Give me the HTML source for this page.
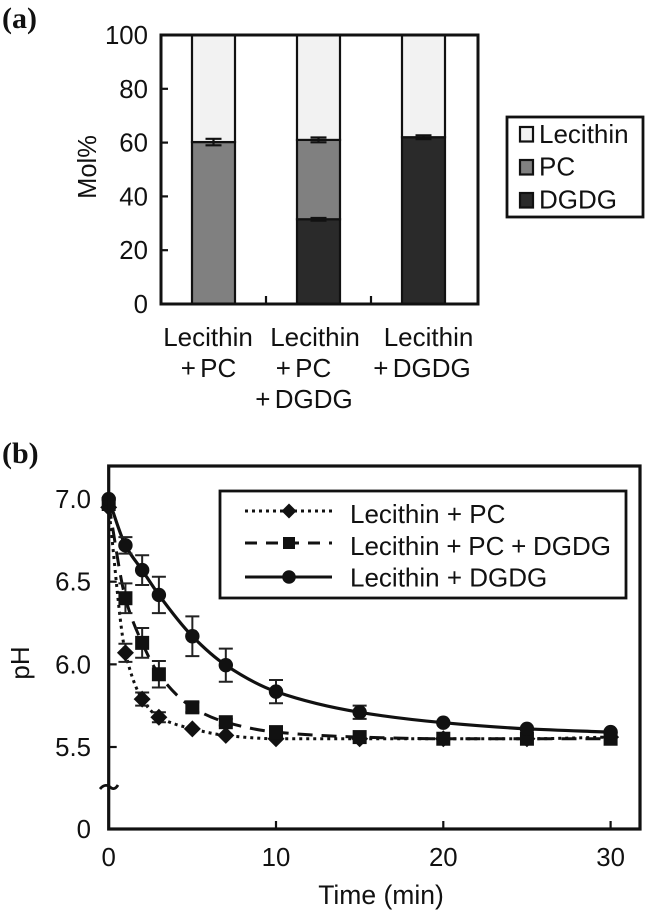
<!DOCTYPE html>
<html>
<head>
<meta charset="utf-8">
<title>Lecithin charts</title>
<style>
html,body{margin:0;padding:0;background:#fff;}
svg{display:block;}
text{font-family:"Liberation Sans",sans-serif;fill:#111;}
</style>
</head>
<body>
<svg id="fig" width="646" height="913" viewBox="0 0 646 913" xmlns="http://www.w3.org/2000/svg">
  <text x="2" y="28" font-size="30" font-weight="bold" style="font-family:'Liberation Serif',serif">(a)</text>
  <text x="2" y="463" font-size="30" font-weight="bold" style="font-family:'Liberation Serif',serif">(b)</text>
  <text transform="translate(96,167) rotate(-90)" text-anchor="middle" font-size="25.5">Mol%</text>
  <text transform="translate(29,663) rotate(-90)" text-anchor="middle" font-size="26">pH</text>
  <text x="381" y="904" text-anchor="middle" font-size="26.5">Time (min)</text>

  <g id="barChart"></g>
  <g id="lineChart"></g>

  <g>
    <rect x="507" y="117" width="136" height="100" fill="#fff" stroke="#111" stroke-width="2.8"/>
    <rect x="520" y="127" width="13" height="14.5" fill="#f2f2f2" stroke="#111" stroke-width="2.2"/>
    <text x="539" y="143" font-size="26">Lecithin</text>
    <rect x="520" y="160" width="13" height="14.5" fill="#808080" stroke="#111" stroke-width="2.2"/>
    <text x="539" y="175.5" font-size="26">PC</text>
    <rect x="520" y="193" width="13" height="14.5" fill="#2a2a2a" stroke="#111" stroke-width="2.2"/>
    <text x="539" y="208.5" font-size="26">DGDG</text>
  </g>

  <g>
    <rect x="220" y="491" width="406" height="107" fill="#fff" stroke="#111" stroke-width="2.8"/>
    <line x1="245" y1="511" x2="332" y2="511" stroke="#111" stroke-width="3" stroke-dasharray="3 4"/>
    <polygon points="289,503.5 296.5,511 289,518.5 281.5,511" fill="#111"/>
    <text x="350" y="523" font-size="26">Lecithin + PC</text>
    <line x1="245" y1="543" x2="332" y2="543" stroke="#111" stroke-width="3" stroke-dasharray="12 9"/>
    <rect x="283" y="537" width="12" height="12" fill="#111"/>
    <text x="350" y="555" font-size="26" word-spacing="-0.5">Lecithin + PC + DGDG</text>
    <line x1="245" y1="577" x2="332" y2="577" stroke="#111" stroke-width="3"/>
    <circle cx="289" cy="577" r="6.8" fill="#111"/>
    <text x="350" y="586.5" font-size="26">Lecithin + DGDG</text>
  </g>
</svg>

<script>
/* ---------- Panel (a) data ---------- */
var barTickLabels = [0, 20, 40, 60, 80, 100];
var dgdgValues = [0, 31.5, 62];
var pcValues = [60.2, 29.5, 0];
var lecithinValues = [39.8, 39, 38];
var pcErrors = [1.2, 0.9, 0];
var dgdgErrors = [0, 0.5, 0.7];
var categoryLine1 = ['Lecithin', 'Lecithin', 'Lecithin'];
var categoryLine2 = ['+ PC', '+ PC', '+ DGDG'];
var categoryLine3 = ['', '+ DGDG', ''];

/* ---------- Panel (b) data ---------- */
var timePoints = [0, 1, 2, 3, 5, 7, 10, 15, 20, 25, 30];
var phTickLabels = [0, 5.5, 6, 6.5, 7];
var timeTickLabels = [0, 10, 20, 30];
var lecithinPc = [6.95, 6.07, 5.79, 5.68, 5.61, 5.57, 5.55, 5.55, 5.55, 5.55, 5.56];
var lecithinPcErr = [0.01, 0.055, 0.04, 0.03, 0.01, 0.01, 0.01, 0.01, 0.01, 0.01, 0.01];
var lecithinPcDgdg = [6.97, 6.40, 6.13, 5.94, 5.74, 5.65, 5.59, 5.56, 5.55, 5.55, 5.55];
var lecithinPcDgdgErr = [0.01, 0.09, 0.09, 0.08, 0.03, 0.02, 0.01, 0.01, 0.01, 0.01, 0.01];
var lecithinDgdg = [7.0, 6.72, 6.57, 6.42, 6.17, 5.995, 5.835, 5.71, 5.647, 5.61, 5.59];
var lecithinDgdgErr = [0.01, 0.05, 0.09, 0.11, 0.12, 0.10, 0.07, 0.04, 0.01, 0.01, 0.01];

var NS = 'http://www.w3.org/2000/svg';
var INK = '#111';

function mk(parent, tag, props, name, text) {
  var el = document.createElementNS(NS, tag);
  for (var k in props) { el.setAttribute(k, props[k]); }
  
  
  if (text !== undefined) { el.textContent = text; }
  parent.appendChild(el);
  return el;
}

/* ---------- Panel (a) ---------- */
(function () {
  var g = document.getElementById('barChart');
  var L = 161, R = 478, T = 35, B = 304;
  var n = dgdgValues.length;
  var band = 105, bw = 43;
  function y(v) { return B - (B - T) * v / 100; }
  function cx(i) { return L + band * (i + 0.5); }

  function seg(i, from, val, fill, name) {
    if (val <= 0) { return; }
    mk(g, 'rect', { x: cx(i) - bw / 2, y: y(from + val), width: bw, height: y(from) - y(from + val), fill: fill, stroke: INK, 'stroke-width': 2.2 }, name);
  }
  function err(i, v, e, name) {
    if (e <= 0) { return; }
    var c = cx(i), w = 8;
    mk(g, 'path', {
      d: 'M' + (c - w) + ' ' + y(v + e) + 'H' + (c + w) + 'M' + (c - w) + ' ' + y(v - e) + 'H' + (c + w) + 'M' + c + ' ' + y(v + e) + 'V' + y(v - e),
      fill: 'none', stroke: INK, 'stroke-width': 2.2
    }, name);
  }

  for (var i = 0; i < n; i++) {
    seg(i, 0, dgdgValues[i], '#2a2a2a', 'bar-dgdg-' + (i + 1));
    seg(i, dgdgValues[i], pcValues[i], '#808080', 'bar-pc-' + (i + 1));
    seg(i, dgdgValues[i] + pcValues[i], lecithinValues[i], '#f2f2f2', 'bar-lecithin-' + (i + 1));
  }
  for (var j = 0; j < n; j++) {
    err(j, dgdgValues[j], dgdgErrors[j], 'error-bar-dgdg-' + (j + 1));
    if (pcValues[j] > 0) { err(j, dgdgValues[j] + pcValues[j], pcErrors[j], 'error-bar-pc-' + (j + 1)); }
  }

  mk(g, 'rect', { x: L, y: T, width: R - L, height: B - T, fill: 'none', stroke: INK, 'stroke-width': 3 }, 'bar-plot-frame');

  barTickLabels.forEach(function (v) {
    if (v > 0 && v < 100) {
      mk(g, 'line', { x1: L, x2: L + 7, y1: y(v), y2: y(v), stroke: INK, 'stroke-width': 2.2 }, 'y-tick-' + v);
    }
    mk(g, 'text', { x: 148, y: y(v) + 9, 'text-anchor': 'end', 'font-size': 25.8 }, 'y-tick-label-' + v, String(v));
  });
  for (var t = 1; t < n; t++) {
    mk(g, 'line', { x1: L + band * t, x2: L + band * t, y1: B, y2: B - 8, stroke: INK, 'stroke-width': 2.2 }, 'x-tick-' + t);
  }

  var line1Off = [-5.5, -3.5, 5];
  var line2Off = [-5, -15, -1.5];
  var line3Off = [0, -14.5, 0];
  for (var c = 0; c < n; c++) {
    mk(g, 'text', { x: cx(c) + line1Off[c], y: 346, 'text-anchor': 'middle', 'font-size': 26 }, 'category-label-' + (c + 1) + '-line-1', categoryLine1[c]);
    mk(g, 'text', { x: cx(c) + line2Off[c], y: 377, 'text-anchor': 'middle', 'font-size': 26, 'word-spacing': -3 }, 'category-label-' + (c + 1) + '-line-2', categoryLine2[c]);
    if (categoryLine3[c]) {
      mk(g, 'text', { x: cx(c) + line3Off[c], y: 408, 'text-anchor': 'middle', 'font-size': 26, 'word-spacing': -3 }, 'category-label-' + (c + 1) + '-line-3', categoryLine3[c]);
    }
  }
})();

/* ---------- Panel (b) ---------- */
(function () {
  var g = document.getElementById('lineChart');
  var L = 108.7, R = 640, T = 466, B = 829;
  function x(t) { return L + t * 16.73; }
  function y(v) { return v === 0 ? B : 747 - (v - 5.5) * 165.3; }

  function curve(xs, ys) {
    var n = xs.length, d = [], m = [], i;
    for (i = 0; i < n - 1; i++) { d[i] = (ys[i + 1] - ys[i]) / (xs[i + 1] - xs[i]); }
    m[0] = d[0];
    m[n - 1] = d[n - 2];
    for (i = 1; i < n - 1; i++) {
      var h0 = xs[i] - xs[i - 1], h1 = xs[i + 1] - xs[i];
      m[i] = d[i - 1] * d[i] <= 0 ? 0 : (h0 + h1) * 3 / ((2 * h1 + h0) / d[i - 1] + (h1 + 2 * h0) / d[i]);
    }
    var p = 'M' + xs[0] + ' ' + ys[0];
    for (i = 0; i < n - 1; i++) {
      var h = (xs[i + 1] - xs[i]) / 3;
      p += 'C' + (xs[i] + h) + ' ' + (ys[i] + m[i] * h) + ' ' + (xs[i + 1] - h) + ' ' + (ys[i + 1] - m[i + 1] * h) + ' ' + xs[i + 1] + ' ' + ys[i + 1];
    }
    return p;
  }

  function series(values, errors, key, dash, width) {
    var xs = timePoints.map(x), ys = values.map(y);
    var props = { d: curve(xs, ys), fill: 'none', stroke: INK, 'stroke-width': width };
    if (dash) { props['stroke-dasharray'] = dash; }
    mk(g, 'path', props, 'line-' + key);
    values.forEach(function (v, i) {
      if (errors[i] > 0.015) {
        var c = x(timePoints[i]), a = y(v + errors[i]), b = y(v - errors[i]);
        mk(g, 'path', {
          d: 'M' + (c - 7) + ' ' + a + 'H' + (c + 7) + 'M' + (c - 7) + ' ' + b + 'H' + (c + 7) + 'M' + c + ' ' + a + 'V' + b,
          fill: 'none', stroke: '#222', 'stroke-width': 2
        }, 'error-bar-' + key + '-' + timePoints[i]);
      }
    });
  }

  function markers(values, key, shape) {
    values.forEach(function (v, i) {
      var c = x(timePoints[i]), m = y(v), nm = 'point-' + key + '-' + timePoints[i];
      if (shape === 'diamond') {
        mk(g, 'polygon', { points: c + ',' + (m - 8.5) + ' ' + (c + 8.5) + ',' + m + ' ' + c + ',' + (m + 8.5) + ' ' + (c - 8.5) + ',' + m, fill: INK }, nm);
      } else if (shape === 'square') {
        mk(g, 'rect', { x: c - 7, y: m - 7, width: 14, height: 14, fill: INK }, nm);
      } else {
        mk(g, 'circle', { cx: c, cy: m, r: 7.2, fill: INK }, nm);
      }
    });
  }

  series(lecithinPc, lecithinPcErr, 'lecithin-pc', '3 4', 3);
  series(lecithinPcDgdg, lecithinPcDgdgErr, 'lecithin-pc-dgdg', '15 9', 3);
  series(lecithinDgdg, lecithinDgdgErr, 'lecithin-dgdg', '', 3.2);
  markers(lecithinPc, 'lecithin-pc', 'diamond');
  markers(lecithinPcDgdg, 'lecithin-pc-dgdg', 'square');
  markers(lecithinDgdg, 'lecithin-dgdg', 'circle');

  mk(g, 'rect', { x: L, y: T, width: R - L, height: B - T, fill: 'none', stroke: INK, 'stroke-width': 3.2 }, 'line-plot-frame');
  mk(g, 'path', { d: 'M100 789C104 784 108 785 110 787S115 790 118 785', fill: 'none', stroke: INK, 'stroke-width': 2.8 }, 'y-axis-break');

  phTickLabels.forEach(function (v) {
    if (v > 0 && v < 7) {
      mk(g, 'line', { x1: L, x2: L + 8, y1: y(v), y2: y(v), stroke: INK, 'stroke-width': 2.2 }, 'ph-tick-' + v);
    }
    mk(g, 'text', { x: 91, y: y(v) + 9, 'text-anchor': 'end', 'font-size': 25.8 }, 'ph-tick-label-' + v, v === 0 ? '0' : v.toFixed(1));
  });
  timeTickLabels.forEach(function (t) {
    if (t > 0) {
      mk(g, 'line', { x1: x(t), x2: x(t), y1: B, y2: B - 8, stroke: INK, 'stroke-width': 2.2 }, 'time-tick-' + t);
    }
    mk(g, 'text', { x: x(t), y: 866, 'text-anchor': 'middle', 'font-size': 25.8 }, 'time-tick-label-' + t, String(t));
  });
})();
</script>
</body>
</html>
